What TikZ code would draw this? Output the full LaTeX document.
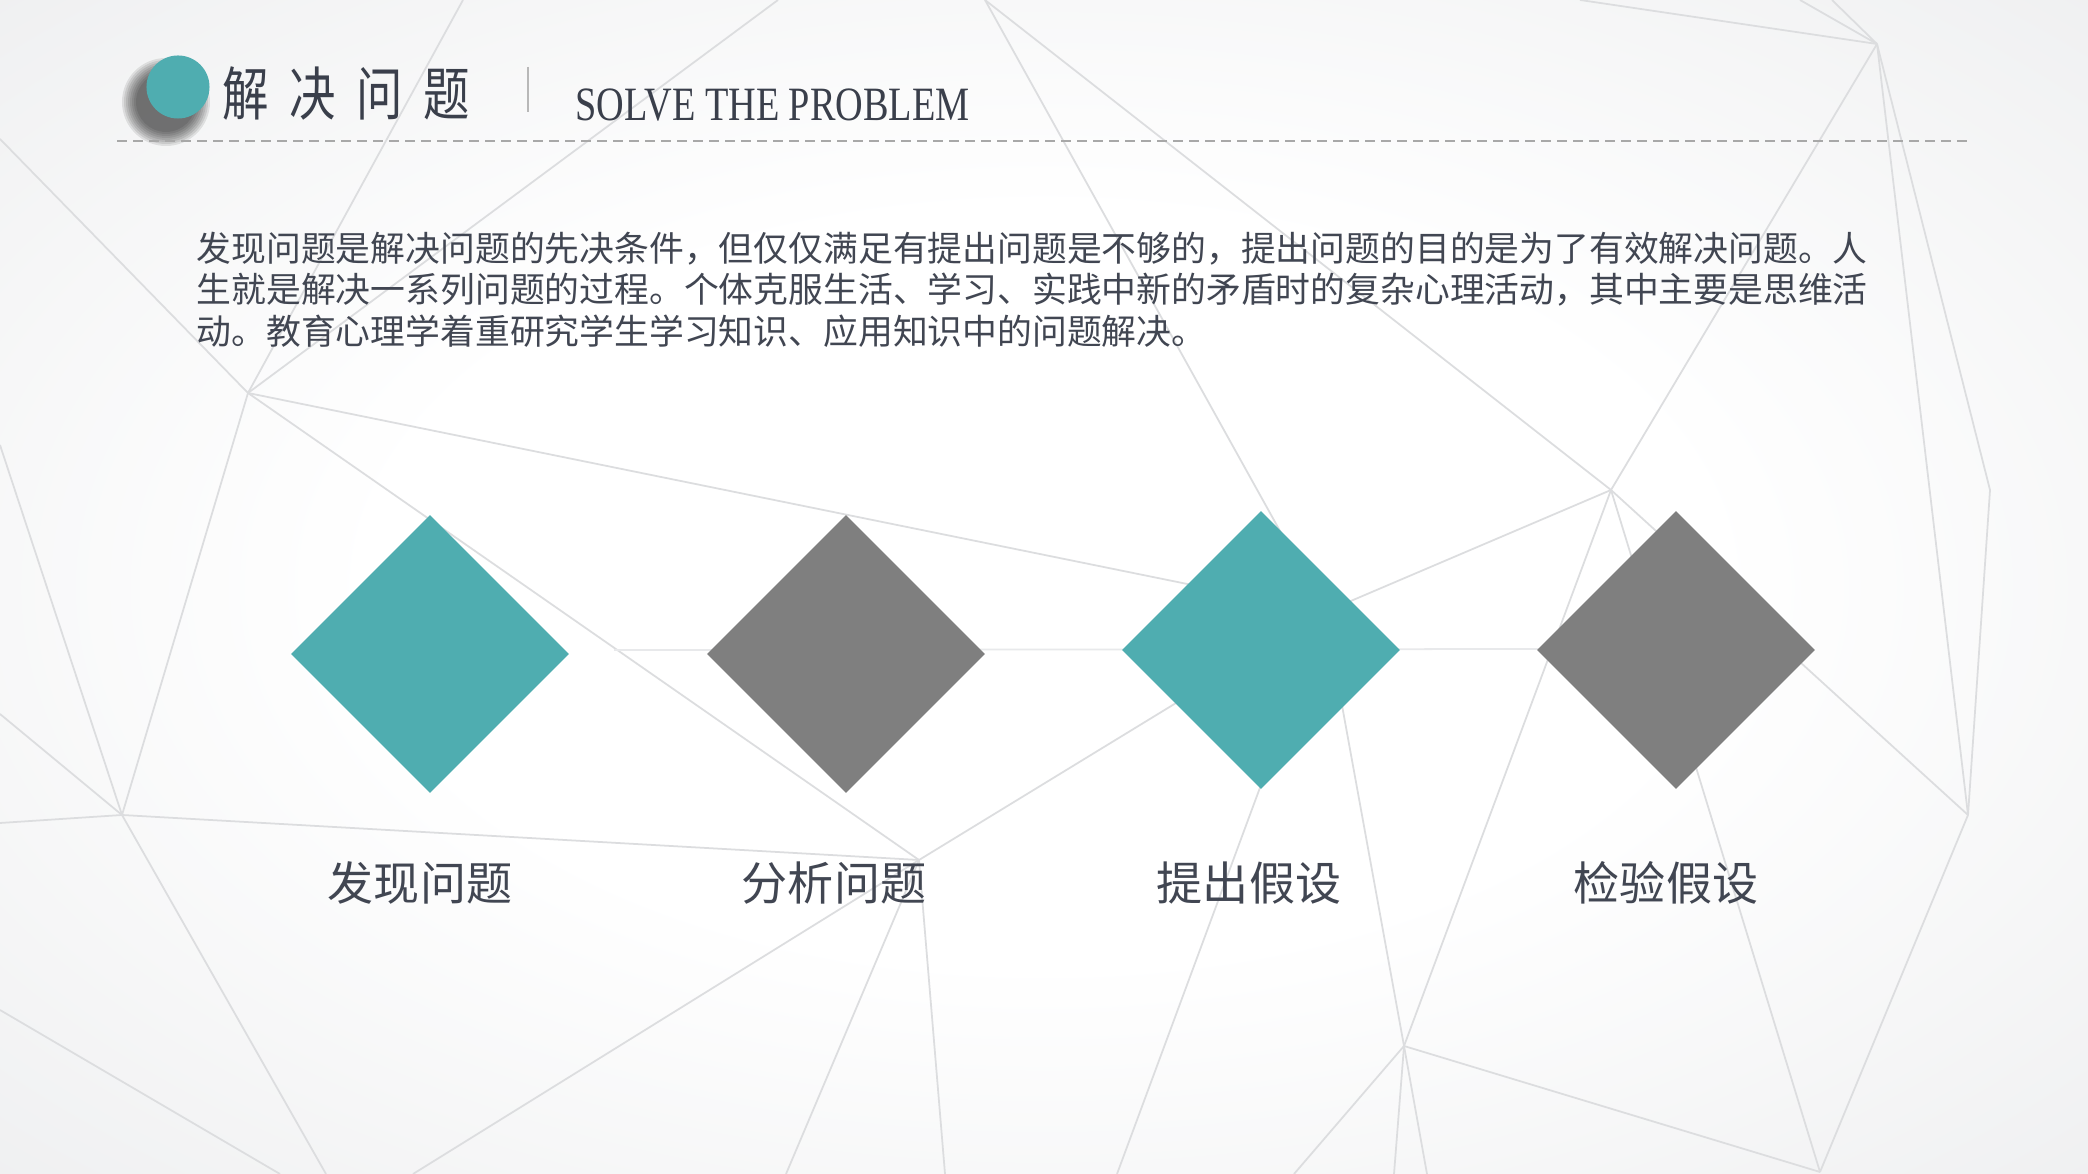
\documentclass[tikz,border=0pt]{standalone}
\usepackage{fontspec}
\setmainfont{Liberation Serif}
\newfontfamily\cjk{Noto Sans CJK SC}
\newfontfamily\cjknarrow[FakeStretch=0.8]{Noto Sans CJK SC}
\newfontfamily\narrowserif[FakeStretch=0.8]{Liberation Serif}
\usetikzlibrary{shapes.geometric}
\definecolor{tealc}{HTML}{4FADB0}
\definecolor{grayc}{HTML}{7F7F7F}
\definecolor{titlec}{HTML}{3A3F4B}
\definecolor{txtc}{HTML}{414652}
\definecolor{bgedge}{HTML}{E4E5E7}
\definecolor{netc}{HTML}{DCDDDF}
\definecolor{netfaint}{HTML}{E8E9EB}
\definecolor{dashc}{HTML}{A8A8A8}
\definecolor{barc}{HTML}{B8B8B8}
\pgfdeclareradialshading{bgshade}{\pgfpoint{0bp}{0bp}}{color(0bp)=(white); color(16bp)=(white); color(50bp)=(bgedge); color(100bp)=(bgedge)}
\tikzset{
  net/.style={draw=netc, line width=0.5pt},
  gem/.style={diamond, shape aspect=1, minimum size=2.78cm, inner sep=0pt, draw=none},
  para/.style={anchor=west, inner sep=0pt, text=txtc, font=\cjk\fontsize{9.9pt}{9.9pt}\selectfont},
  lbl/.style={inner sep=0pt, text=txtc, font=\cjk\fontsize{13.1pt}{13.1pt}\selectfont}
}
\begin{document}
\begin{tikzpicture}[x=0.01cm,y=-0.01cm]
\useasboundingbox (0,0) rectangle (2088,1174);
\shade[shading=bgshade] (0,0) rectangle (2088,1174);
% network vertices
\coordinate (A) at (248,393);
\coordinate (B) at (122,815);
\coordinate (C) at (919,860);
\coordinate (D) at (1611,490);
\coordinate (E) at (1877,44);
\coordinate (F) at (1990,490);
\coordinate (G) at (1968,815);
\coordinate (H) at (1404,1046);
\coordinate (I) at (1325,612);
\coordinate (J) at (1820,1172);
\coordinate (T0) at (985,0);
% network lines
\draw[net] (A) -- (463,0);
\draw[net] (A) -- (778,0);
\draw[net] (A) -- (0,139);
\draw[net] (A) -- (B);
\draw[net] (A) -- (C);
\draw[net] (A) -- (I);
\draw[net] (0,445) -- (B);
\draw[net] (0,714) -- (B);
\draw[net] (0,823) -- (B);
\draw[net] (B) -- (C);
\draw[net] (B) -- (326,1174);
\draw[net] (0,1010) -- (280,1174);
\draw[net] (C) -- (I);
\draw[net] (C) -- (413,1174);
\draw[net] (C) -- (786,1174);
\draw[net] (C) -- (945,1174);
\draw[net] (T0) -- (I);
\draw[net] (T0) -- (D);
\draw[net] (I) -- (D);
\draw[net] (I) -- (H);
\draw[net] (I) -- (1117,1174);
\draw[net] (D) -- (E);
\draw[net] (D) -- (G);
\draw[net] (D) -- (H);
\draw[net] (D) -- (J);
\draw[net] (E) -- (1580,0);
\draw[net] (E) -- (1800,0);
\draw[net] (E) -- (1832,0);
\draw[net] (E) -- (F);
\draw[net] (E) -- (G);
\draw[net] (F) -- (G);
\draw[net] (G) -- (J);
\draw[net] (H) -- (J);
\draw[net] (H) -- (1294,1174);
\draw[net] (H) -- (1394,1174);
\draw[net] (H) -- (1427,1174);
\draw[net, draw=netfaint] (614,650) -- (1553,649);
% header
\foreach \r in {30,32,...,44} \fill[black, opacity=0.09] (166,102) circle (\r*0.01cm);
\fill[tealc] (178,87) circle (0.315cm);
\node[anchor=west, inner sep=0pt, text=titlec, font=\cjknarrow\fontsize{16.5pt}{16.5pt}\selectfont] (title) at (222,94) {解\hspace{0.206cm}决\hspace{0.206cm}问\hspace{0.206cm}题};
\draw[barc, line width=0.7pt] (528,67) -- (528,112);
\node[anchor=base west, inner sep=0pt, text=titlec, font=\narrowserif\fontsize{13.6pt}{13.6pt}\selectfont] (sub) at (575,121) {SOLVE THE PROBLEM};
\draw[dashc, line width=0.7pt, dash pattern=on 2.85pt off 1.7pt] (117,141) -- (1969,141);
% paragraph
\node[para] (p1) at (196,249) {发现问题是解决问题的先决条件，但仅仅满足有提出问题是不够的，提出问题的目的是为了有效解决问题。人};
\node[para] (p2) at (196,290) {生就是解决一系列问题的过程。个体克服生活、学习、实践中新的矛盾时的复杂心理活动，其中主要是思维活};
\node[para] (p3) at (196,331) {动。教育心理学着重研究学生学习知识、应用知识中的问题解决。};
% diamonds
\node[gem, fill=tealc] (d1) at (430,654) {};
\node[gem, fill=grayc] (d2) at (846,654) {};
\node[gem, fill=tealc] (d3) at (1261,650) {};
\node[gem, fill=grayc] (d4) at (1676,650) {};
% labels
\node[lbl] (l1) at (420,883) {发现问题};
\node[lbl] (l2) at (834,883) {分析问题};
\node[lbl] (l3) at (1249,883) {提出假设};
\node[lbl] (l4) at (1666,883) {检验假设};
\end{tikzpicture}
\end{document}
